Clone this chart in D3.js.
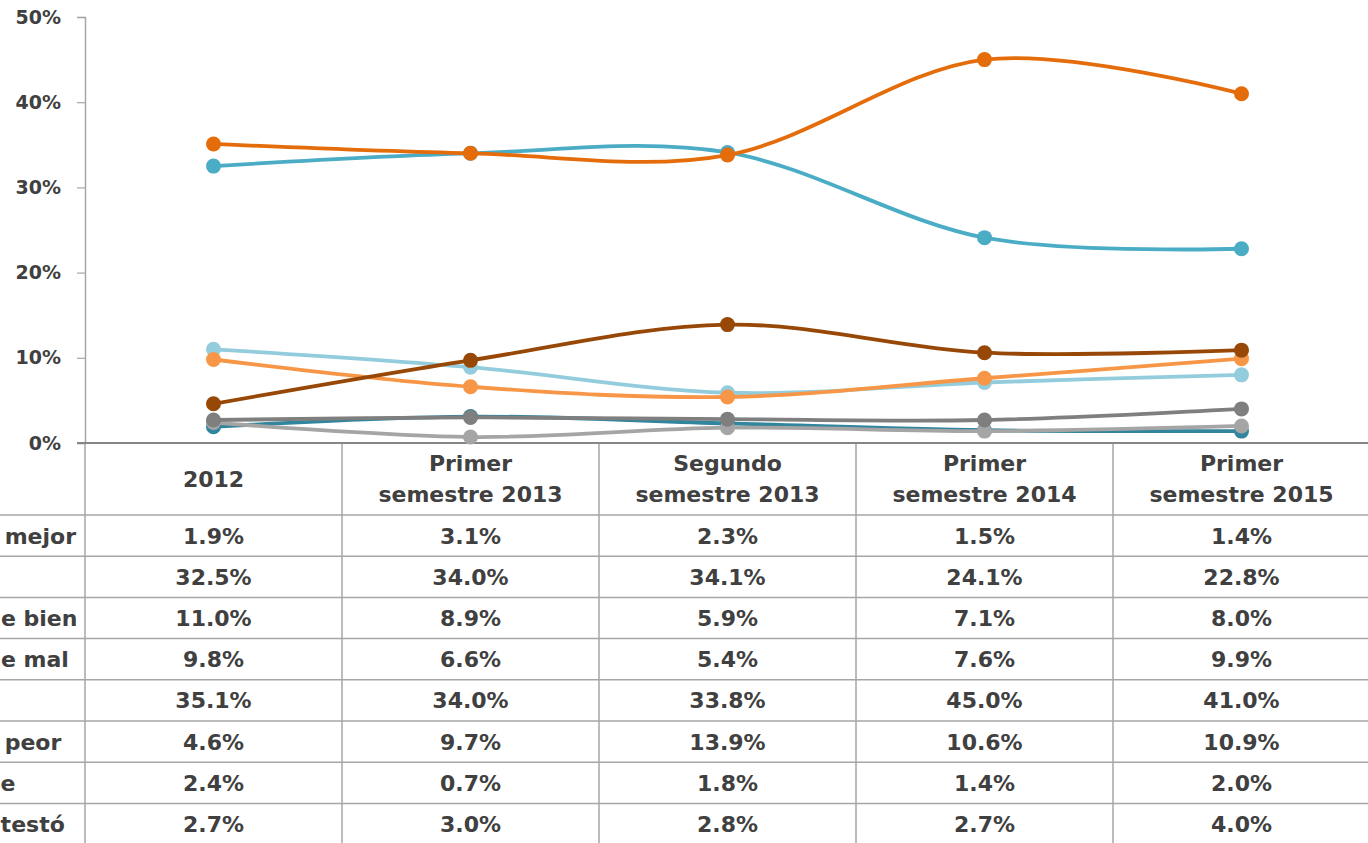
<!DOCTYPE html>
<html>
<head>
  <meta charset="utf-8">
  <title>Percepción</title>
  <script src="https://d3js.org/d3.v7.min.js"></script>
  <style>
    body { margin: 0; background: #fff; }
    svg text { font-family: "DejaVu Sans", sans-serif; font-weight: bold; fill: #404040; }
  </style>
</head>
<body>
  <div id="chart"></div>

  <script>
    // categorias y valores (en %)
    const categories = ["2012", "Primer semestre 2013", "Segundo semestre 2013", "Primer semestre 2014", "Primer semestre 2015"];
    const seriesNames = ["Mucho mejor", "Mejor", "Igual de bien", "Igual de mal", "Peor", "Mucho peor", "No sabe", "No contestó"];
    const muchoMejor = [1.9, 3.1, 2.3, 1.5, 1.4];
    const mejor = [32.5, 34.0, 34.1, 24.1, 22.8];
    const igualBien = [11.0, 8.9, 5.9, 7.1, 8.0];
    const igualMal = [9.8, 6.6, 5.4, 7.6, 9.9];
    const peor = [35.1, 34.0, 33.8, 45.0, 41.0];
    const muchoPeor = [4.6, 9.7, 13.9, 10.6, 10.9];
    const noSabe = [2.4, 0.7, 1.8, 1.4, 2.0];
    const noContesto = [2.7, 3.0, 2.8, 2.7, 4.0];
    const yTicks = [0, 10, 20, 30, 40, 50];
    const colors = ["#31859C", "#4BACC6", "#93CDDD", "#F79646", "#E46C0A", "#974806", "#A5A5A5", "#7F7F7F"];

    const allValues = [muchoMejor, mejor, igualBien, igualMal, peor, muchoPeor, noSabe, noContesto];
    const series = seriesNames.map((name, i) => ({ name, values: allValues[i], color: colors[i] }));

    const width = 1368, height = 843;
    const marginLeft = 85, plotTop = 17, axisY = 443;
    const headerH = 72, rowH = 41.2;

    const svg = d3.select("#chart").append("svg")
      .attr("width", width)
      .attr("height", height);

    const x = d3.scaleBand().domain(categories).range([marginLeft, marginLeft + 5 * 257]);
    const y = d3.scaleLinear().domain([0, 50]).range([axisY, plotTop]);
    const cx = j => x(categories[j]) + x.bandwidth() / 2;

    // eje y
    const yAxis = svg.append("g")
      .attr("transform", `translate(${marginLeft},0)`)
      .call(d3.axisLeft(y).tickValues(yTicks).tickFormat(d => d + "%").tickSize(8).tickPadding(16));
    yAxis.select(".domain").attr("stroke", "#A6A6A6").attr("stroke-width", 1.5);
    yAxis.selectAll(".tick line").attr("stroke", "#A6A6A6").attr("stroke-width", 1.2);
    yAxis.selectAll(".tick text").attr("font-size", 19).attr("fill", "#404040")
      .style("font-family", "DejaVu Sans").style("font-weight", "bold");

    // tabla de datos
    const table = svg.append("g");
    const rowY = i => axisY + headerH + i * rowH;

    table.selectAll("line.h")
      .data(d3.range(seriesNames.length))
      .join("line")
      .attr("x1", 0).attr("x2", width)
      .attr("y1", d => rowY(d)).attr("y2", d => rowY(d))
      .attr("stroke", "#A6A6A6").attr("stroke-width", 1.5);

    table.selectAll("line.v")
      .data(categories)
      .join("line")
      .attr("x1", d => x(d)).attr("x2", d => x(d))
      .attr("y1", axisY).attr("y2", height)
      .attr("stroke", "#A6A6A6").attr("stroke-width", 1.5);

    // encabezados
    const header = table.selectAll("text.head")
      .data(categories)
      .join("text")
      .attr("class", "head")
      .attr("text-anchor", "middle")
      .attr("font-size", 22)
      .attr("x", (d, j) => cx(j));
    header.each(function(d, j) {
      const t = d3.select(this);
      const sp = d.indexOf(" ");
      if (sp < 0) {
        t.append("tspan").attr("y", axisY + headerH / 2 + 8).text(d);
      } else {
        t.append("tspan").attr("x", cx(j)).attr("y", axisY + 28).text(d.slice(0, sp));
        t.append("tspan").attr("x", cx(j)).attr("y", axisY + 59).text(d.slice(sp + 1));
      }
    });

    // valores
    series.forEach((s, i) => {
      table.selectAll(null)
        .data(s.values)
        .join("text")
        .attr("text-anchor", "middle")
        .attr("font-size", 22)
        .attr("x", (d, j) => cx(j))
        .attr("y", rowY(i) + rowH / 2 + 8)
        .text(d => d.toFixed(1) + "%");
    });

    // etiquetas de filas (alineadas a la izquierda, cortadas por el borde como en el original)
    const rowLabels = table.selectAll("text.row")
      .data(seriesNames)
      .join("text")
      .attr("class", "row")
      .attr("font-size", 22)
      .attr("y", (d, i) => rowY(i) + rowH / 2 + 8)
      .text(d => d);
    const refW = rowLabels.node().getComputedTextLength();
    rowLabels.attr("x", marginLeft - 9 - refW);

    // linea base
    svg.append("line")
      .attr("x1", marginLeft - 8).attr("x2", width)
      .attr("y1", axisY).attr("y2", axisY)
      .attr("stroke", "#868686").attr("stroke-width", 2);

    // lineas
    const line = d3.line()
      .x((d, j) => cx(j))
      .y(d => y(d))
      .curve(d3.curveCardinal.tension(0));

    const g = svg.selectAll("g.serie")
      .data(series)
      .join("g")
      .attr("class", "serie");

    g.append("path")
      .attr("d", d => line(d.values))
      .attr("fill", "none")
      .attr("stroke", d => d.color)
      .attr("stroke-width", 3.8);

    g.selectAll("circle")
      .data(d => d.values.map(v => ({ v, color: d.color })))
      .join("circle")
      .attr("cx", (d, j) => cx(j))
      .attr("cy", d => y(d.v))
      .attr("r", 7.5)
      .attr("fill", d => d.color);
  </script>
</body>
</html>
